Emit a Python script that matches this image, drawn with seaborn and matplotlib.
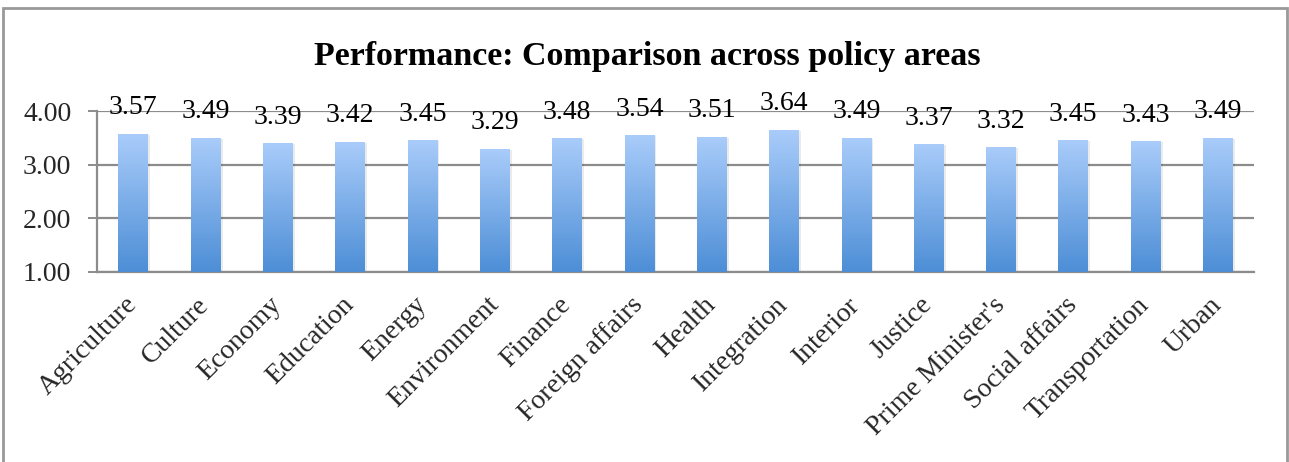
import numpy as np
import pandas as pd
import matplotlib
matplotlib.use("Agg")
import matplotlib.pyplot as plt
from matplotlib.colors import LinearSegmentedColormap
from matplotlib.patches import Rectangle
import seaborn as sns

categories = ["Agriculture", "Culture", "Economy", "Education", "Energy",
              "Environment", "Finance", "Foreign affairs", "Health",
              "Integration", "Interior", "Justice", "Prime Minister's",
              "Social affairs", "Transportation", "Urban"]
scores = [3.57, 3.49, 3.39, 3.42, 3.45, 3.29, 3.48, 3.54, 3.51,
          3.64, 3.49, 3.37, 3.32, 3.45, 3.43, 3.49]
y_ticks = [1.00, 2.00, 3.00, 4.00]
title = "Performance: Comparison across policy areas"

df = pd.DataFrame({"area": categories, "score": scores})

sns.set_theme(style="white")
plt.rcParams["font.family"] = ["Liberation Serif", "DejaVu Serif"]

grid_col = "#8c8c8c"
fig = plt.figure(figsize=(12.89, 4.62), dpi=100)
ax = fig.add_axes([0.0753, 0.4113, 0.8976, 0.3484])

sns.barplot(data=df, x="area", y="score", ax=ax, width=0.41,
            color="#7aaee8", saturation=1, zorder=3)

ax.set_ylim(1, 4)
ax.set_xlim(-0.5, len(categories) - 0.5)

# vertical gradient fill for each bar, light at the top
cmap = LinearSegmentedColormap.from_list("barfill", ["#4d8ed6", "#a9ccfa"])
grad = np.linspace(0, 1, 256).reshape(-1, 1)
for patch in ax.patches:
    x0, y0 = patch.get_x(), patch.get_y()
    w, h = patch.get_width(), patch.get_height()
    y_base = max(y0, 1)
    top = y0 + h
    shadow = Rectangle((x0 + 0.03, y_base), w, top - y_base - 0.01,
                       facecolor="#000000", alpha=0.08, edgecolor="none",
                       zorder=2)
    ax.add_patch(shadow)
    ax.imshow(grad, extent=[x0, x0 + w, y_base, top], origin="lower",
              aspect="auto", cmap=cmap, zorder=3.5, interpolation="bicubic")
    patch.set_facecolor("none")
    patch.set_edgecolor("none")

# value labels above bars
for i, v in enumerate(scores):
    ax.annotate(f"{v:.2f}", xy=(i, v), xytext=(0, 10),
                textcoords="offset points", ha="center", va="bottom",
                fontsize=20, color="black", zorder=5)

ax.set_yticks(y_ticks)
ax.set_yticklabels([f"{t:.2f}" for t in y_ticks], fontsize=20)
ax.yaxis.grid(True, color=grid_col, linewidth=1.6, zorder=0)
ax.set_axisbelow(True)

# category ticks on boundaries, labels at centres
n = len(categories)
ax.set_xticks(np.arange(n))
ax.set_xticklabels(categories, rotation=45, ha="right", va="center",
                   rotation_mode="anchor", fontsize=20)
ax.set_xticks(np.arange(-0.5, n, 1), minor=True)
ax.tick_params(axis="x", which="major", length=0, pad=21)
ax.tick_params(axis="x", which="minor", length=6.5, width=1.4,
               color=grid_col, direction="out")
ax.tick_params(axis="y", length=6.5, width=1.4, color=grid_col,
               direction="out", pad=12, left=True)

for side in ["top", "right"]:
    ax.spines[side].set_visible(False)
for side in ["left", "bottom"]:
    ax.spines[side].set_color(grid_col)
    ax.spines[side].set_linewidth(1.6)

ax.set_xlabel("")
ax.set_ylabel("")

fig.text(0.502, 0.877, title, ha="center", va="center",
         fontsize=24.5, fontweight="bold", color="black")

# chart frame
frame = Rectangle((3 / 1289, -0.01), 1284 / 1289, 1 - 8 / 462 + 0.01,
                  transform=fig.transFigure, fill=False,
                  edgecolor="#999999", linewidth=2)
fig.patches.append(frame)

fig.savefig("out.png", dpi=100, facecolor="white")
